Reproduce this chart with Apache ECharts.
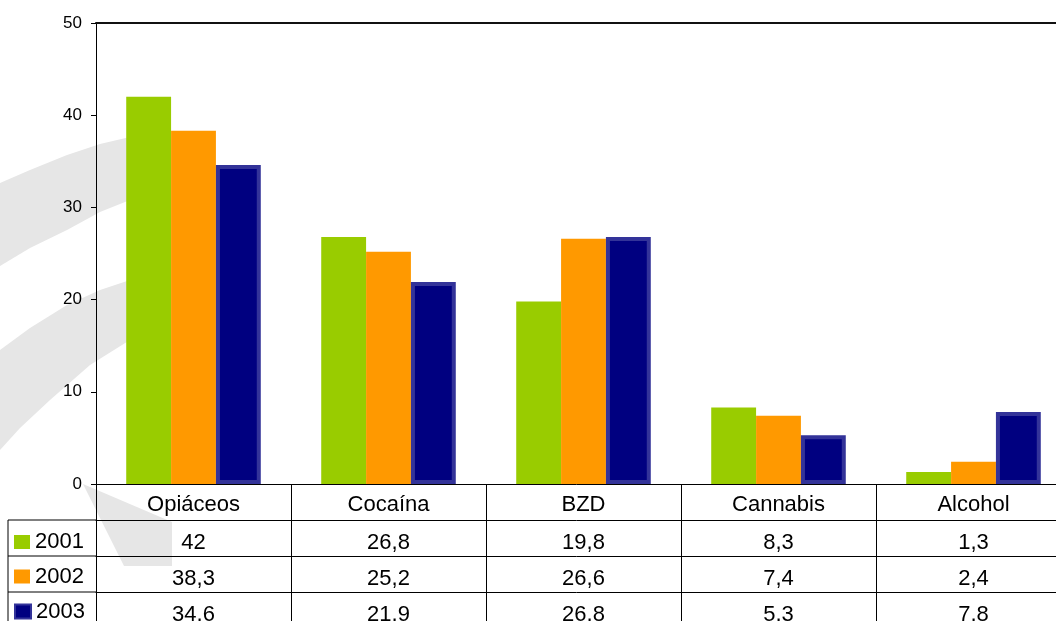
<!DOCTYPE html>
<html>
<head>
<meta charset="utf-8">
<script src="https://cdn.jsdelivr.net/npm/echarts@6/dist/echarts.min.js"></script>
<style>
html,body{margin:0;padding:0;background:#fff;}
#c{width:1056px;height:621px;}
</style>
</head>
<body>
<div id="c"></div>
<script>
var categories = ['Opiáceos', 'Cocaína', 'BZD', 'Cannabis', 'Alcohol'];
var seriesNames = ['2001', '2002', '2003'];
var s2001 = [42, 26.8, 19.8, 8.3, 1.3];
var s2002 = [38.3, 25.2, 26.6, 7.4, 2.4];
var s2003 = [34.6, 21.9, 26.8, 5.3, 7.8];
var yTicks = [0, 10, 20, 30, 40, 50];

var FONT = "'Liberation Sans', Arial, sans-serif";
var colors = ['#99CC00', '#FF9900', '#000080'];
var allSeries = [s2001, s2002, s2003];

function fmt(v) { return String(v).replace('.', ','); }

var GRID_LEFT = 96, GRID_TOP = 23, PLOT_H = 461, CAT_W = 195, ROW_H = 36;
var CHART_W = 1056, CHART_H = 621;
var axisY = GRID_TOP + PLOT_H;
var tableLeft = 8;
var legendOffsets = [11, 9.5, 8.5];

var chart = echarts.init(document.getElementById('c'), null, {renderer: 'canvas'});

var xAxes = [{
  type: 'category', data: categories, position: 'bottom', gridIndex: 0,
  axisLine: {show: true, lineStyle: {color: '#000', width: 1}},
  axisTick: {show: true, length: CHART_H - axisY, lineStyle: {color: '#000', width: 1}},
  axisLabel: {fontFamily: FONT, fontSize: 22, color: '#000', margin: 10}
}];
allSeries.forEach(function (arr, k) {
  xAxes.push({
    type: 'category', data: categories, position: 'bottom', offset: ROW_H * (k + 1),
    axisLine: {show: true, lineStyle: {color: '#000', width: 1}},
    axisTick: {show: false},
    axisLabel: {fontFamily: FONT, fontSize: 22, color: '#000', margin: 12,
      formatter: function (val, idx) { return fmt(arr[idx]); }}
  });
});
xAxes.push({
  type: 'category', data: categories, position: 'top',
  axisLine: {show: true, lineStyle: {color: '#111', width: 2}},
  axisTick: {show: false}, axisLabel: {show: false}
});

var series = allSeries.map(function (arr, k) {
  var st = {color: colors[k]};
  if (k === 2) { st.borderColor = '#333399'; st.borderWidth = 4; }
  return {
    name: seriesNames[k], type: 'bar', data: arr, xAxisIndex: 0,
    barGap: '0%', barCategoryGap: '31%', itemStyle: st, z: 2
  };
});

var legends = seriesNames.map(function (n, k) {
  var st = {color: colors[k]};
  if (k === 2) { st.borderColor = '#333399'; st.borderWidth = 2; }
  else { st.borderWidth = 0; }
  return {
    show: true, orient: 'vertical', left: 14,
    top: axisY + ROW_H * (k + 1) + legendOffsets[k],
    itemWidth: 16, itemHeight: 14, padding: 0,
    textStyle: {fontFamily: FONT, fontSize: 22, color: '#000'},
    data: [{name: n, icon: 'rect', itemStyle: st}], selectedMode: false
  };
});

var gray = '#E6E6E6';
var graphics = [
  {type: 'polygon', z: -10, silent: true, style: {fill: gray},
   shape: {points: [[0,183],[30,170],[67,155],[100,144],[130,137],[165,130],
                    [165,186],[130,200],[100,212],[67,230],[30,248],[0,266]]}},
  {type: 'polygon', z: -10, silent: true, style: {fill: gray},
   shape: {points: [[0,350],[30,328],[67,305],[100,290],[130,280],[165,272],
                    [165,326],[130,340],[90,365],[50,400],[20,428],[0,450]]}},
  {type: 'polygon', z: -10, silent: true, style: {fill: gray},
   shape: {points: [[83,484],[172,522],[172,566],[124,566]]}}
];
// table left column lines
for (var r = 1; r <= 3; r++) {
  graphics.push({type: 'line', z: 50, silent: true,
    shape: {x1: tableLeft, y1: axisY + ROW_H * r, x2: GRID_LEFT, y2: axisY + ROW_H * r},
    style: {stroke: '#000', lineWidth: 1}});
}
graphics.push({type: 'line', z: 50, silent: true,
  shape: {x1: tableLeft, y1: axisY + ROW_H, x2: tableLeft, y2: CHART_H},
  style: {stroke: '#000', lineWidth: 1}});

chart.setOption({
  animation: false,
  backgroundColor: '#fff',
  textStyle: {fontFamily: FONT},
  grid: {left: GRID_LEFT, top: GRID_TOP, width: CAT_W * categories.length,
         height: PLOT_H, containLabel: false, outerBoundsMode: 'none'},
  legend: legends,
  xAxis: xAxes,
  yAxis: {
    type: 'value', min: 0, max: 50, interval: 10,
    axisLine: {show: true, lineStyle: {color: '#000', width: 1}},
    axisTick: {show: true, length: 5, lineStyle: {color: '#000'}},
    splitLine: {show: false},
    axisLabel: {fontFamily: FONT, fontSize: 17, color: '#000', margin: 14,
      formatter: function (v) { return yTicks.indexOf(v) >= 0 ? String(v) : ''; }}
  },
  series: series,
  graphic: graphics
});
</script>
</body>
</html>
